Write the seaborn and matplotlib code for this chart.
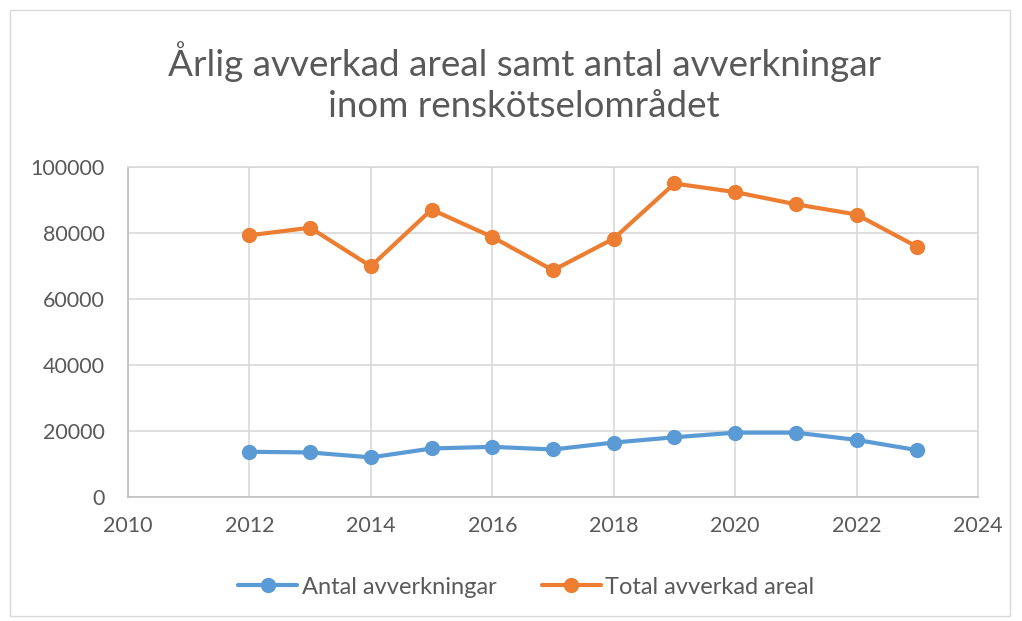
import numpy as np
import pandas as pd
import matplotlib.pyplot as plt
import seaborn as sns

years = list(range(2012, 2024))
antal = [13700, 13500, 12000, 14700, 15200, 14400, 16500, 18100, 19500, 19500, 17300, 14200]
areal = [79300, 81600, 69900, 87100, 78800, 68700, 78300, 95000, 92400, 88700, 85600, 75800]
series_names = ["Antal avverkningar", "Total avverkad areal"]
colors = ["#5B9BD5", "#ED7D31"]

df = pd.DataFrame({
    "year": years * 2,
    "value": antal + areal,
    "serie": [series_names[0]] * len(years) + [series_names[1]] * len(years),
})

sns.set_style("white")
plt.rcParams["font.family"] = ["Lato", "DejaVu Sans"]
text_col = "#595959"
grid_col = "#D9D9D9"

fig = plt.figure(figsize=(10.22, 6.21), dpi=100)
ax = fig.add_axes([128 / 1022, 1 - 497 / 621, 850 / 1022, 330 / 621])

sns.lineplot(data=df, x="year", y="value", hue="serie", hue_order=series_names,
             palette=colors, marker="o", markersize=11, linewidth=3,
             markeredgewidth=0, ax=ax, legend=False)

ax.set_xlim(2010, 2024)
ax.set_ylim(0, 100000)
ax.set_xticks(range(2010, 2025, 2))
ax.set_yticks(range(0, 100001, 20000))
ax.grid(True, color=grid_col, linewidth=1.2)
ax.set_axisbelow(True)
for s in ax.spines.values():
    s.set_color(grid_col)
    s.set_linewidth(1.2)
ax.spines["left"].set_color("#BFBFBF")
ax.spines["bottom"].set_color("#BFBFBF")
ax.tick_params(length=0, labelsize=15.5, colors=text_col)
ax.tick_params(axis="y", pad=17)
ax.tick_params(axis="x", pad=14)
ax.set_xlabel("")
ax.set_ylabel("")

fig.text(0.513, 1 - 82 / 621, "Årlig avverkad areal samt antal avverkningar\ninom renskötselområdet",
         ha="center", va="center", fontsize=26.5, color=text_col, linespacing=1.3)

handles = [plt.Line2D([], [], color=c, marker="o", markersize=11, linewidth=3,
                      markeredgewidth=0) for c in colors]
fig.legend(handles, series_names, loc="center", bbox_to_anchor=(0.515, 1 - 587 / 621),
           ncol=2, frameon=False, fontsize=17, labelcolor=text_col,
           handlelength=2.5, columnspacing=1.9, handletextpad=0.2)

border = plt.Rectangle((10 / 1022, 5 / 621), 1000 / 1022, 606 / 621, transform=fig.transFigure,
                       fill=False, edgecolor=grid_col, linewidth=1)
fig.patches.append(border)

fig.savefig("out.png", dpi=100)
